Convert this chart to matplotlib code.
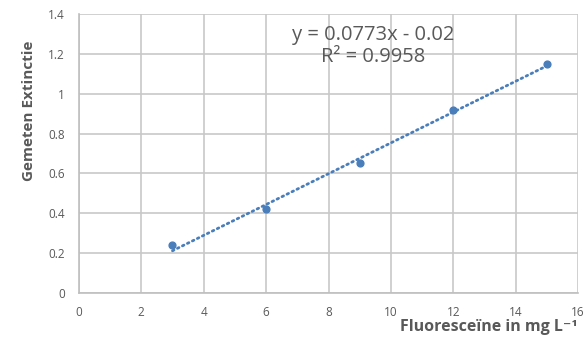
import numpy as np
import matplotlib.pyplot as plt

# data
conc = [3, 6, 9, 12, 15]
extinctie = [0.24, 0.42, 0.65, 0.92, 1.15]
slope = 0.0773
intercept = -0.02
r2 = 0.9958

x_ticks = [0, 2, 4, 6, 8, 10, 12, 14, 16]
y_ticks = [0, 0.2, 0.4, 0.6, 0.8, 1, 1.2, 1.4]
y_labels = ['0', '0.2', '0.4', '0.6', '0.8', '1', '1.2', '1.4']

plt.rcParams['font.family'] = ['Open Sans', 'DejaVu Sans']
grey = '#595959'
blue = '#4a7ebb'

fig = plt.figure(figsize=(5.84, 3.38), dpi=100)
ax = fig.add_axes([0.135, 0.133, 0.855, 0.826])

ax.scatter(conc, extinctie, s=24, color=blue, zorder=3)
xs = np.array([conc[0], conc[-1]])
ax.plot(xs, slope * xs + intercept, color=blue, lw=2, linestyle=(0, (0.6, 1.4)),
        dash_capstyle='round', zorder=3)

ax.set_xlim(0, 16)
ax.set_ylim(0, 1.4)
ax.set_xticks(x_ticks)
ax.set_xticklabels([str(t) for t in x_ticks])
ax.set_yticks(y_ticks)
ax.set_yticklabels(y_labels)
ax.tick_params(length=0, labelsize=8.5, colors=grey)
ax.tick_params(axis='x', pad=9)
ax.tick_params(axis='y', pad=10)
ax.grid(True, color='#c8c8c8', lw=1.2)
ax.set_axisbelow(True)
for s in ['top', 'right']:
    ax.spines[s].set_visible(False)
for s in ['left', 'bottom']:
    ax.spines[s].set_color('#bfbfbf')
    ax.spines[s].set_linewidth(1.2)

ax.set_ylabel('Gemeten Extinctie', fontsize=11, fontweight='bold', color=grey)
ax.yaxis.set_label_coords(-0.086, 0.652)
fig.text(0.685, 0.022, 'Fluoresceïne in mg L⁻¹', fontsize=11.5, fontweight='bold',
         color=grey, ha='left', va='baseline')

ax.text(9.42, 1.24, 'y = %.4fx - %.2f\nR² = %.4f' % (slope, abs(intercept), r2),
        fontsize=14.5, color=grey, ha='center', va='center', linespacing=1.15)

fig.savefig('out.png', dpi=100)
